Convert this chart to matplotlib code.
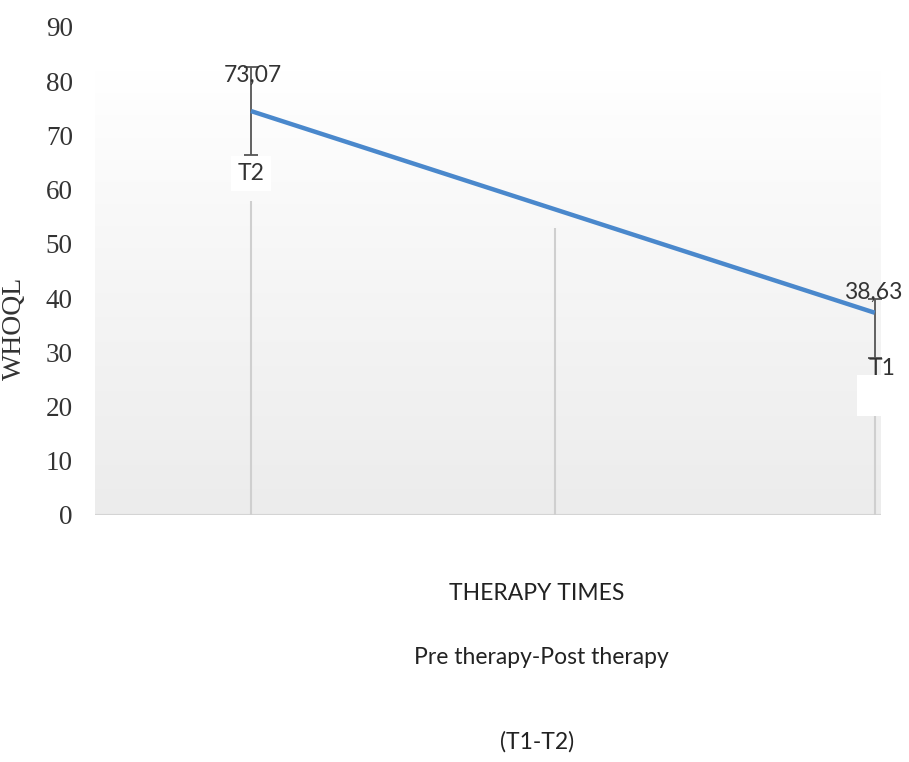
import numpy as np
import matplotlib
matplotlib.use("Agg")
import matplotlib.pyplot as plt
from matplotlib.colors import LinearSegmentedColormap

# Data
times = ["T2", "T1"]
xpos = [0, 2]
whoql_mean = [74.5, 37.3]
value_labels = ["73,07", "38,63"]
err_low = [66.4, 29.0]
err_high = [82.7, 39.8]
grid_x = [0, 0.975, 2]
grid_top = [58, 53, 18.5]
yticks = [0, 10, 20, 30, 40, 50, 60, 70, 80, 90]

fig = plt.figure(figsize=(9.09, 7.62), dpi=100)
ax = fig.add_axes([95/909, 1 - 515/762, (881-95)/909, (515-27)/762])
ax.set_xlim(-0.5, 2.02)
ax.set_ylim(0, 90)

# gradient background
cmap = LinearSegmentedColormap.from_list("bg", ["#ececec", "#f5f5f5", "#ffffff"])
grad = np.linspace(0, 1, 256).reshape(-1, 1)
ax.imshow(grad, extent=[-0.5, 2.02, 0, 82], origin="lower", aspect="auto",
          cmap=cmap, zorder=0)

for s in ax.spines.values():
    s.set_visible(False)
ax.axhline(0, color="#d4d4d4", lw=1.5, zorder=1)

ax.vlines(grid_x, 0, grid_top, colors="#cfcfcf", lw=1.5, zorder=1)

# error bars
lower = np.array(whoql_mean) - np.array(err_low)
upper = np.array(err_high) - np.array(whoql_mean)
ax.errorbar(xpos, whoql_mean, yerr=[lower, upper], fmt="none", ecolor="#555555",
            elinewidth=1.3, capsize=5, capthick=1.3, zorder=3)
ax.plot(xpos, whoql_mean, color="#4a88cc", lw=3.2, zorder=4, solid_capstyle="butt")

lbl_font = ["Lato", "DejaVu Sans"]
fs_lbl = 16.5
ax.text(xpos[0] + 0.005, 81.0, value_labels[0], ha="center", va="center",
        fontsize=fs_lbl, color="#333333", family=lbl_font, zorder=5)
ax.text(xpos[1] - 0.005, 41.0, value_labels[1], ha="center", va="center",
        fontsize=fs_lbl, color="#333333", family=lbl_font, zorder=5)
ax.text(xpos[0], 63.0, times[0], ha="center", va="center", fontsize=fs_lbl,
        color="#333333", family=lbl_font, zorder=5,
        bbox=dict(boxstyle="square,pad=0.3", fc="white", ec="none"))
ax.text(xpos[1] + 0.025, 27.0, times[1], ha="center", va="center", fontsize=fs_lbl,
        color="#333333", family=lbl_font, zorder=5)
ax.text(xpos[1] - 0.01, 22.0, " ", ha="center", va="center", fontsize=13.5,
        zorder=4, bbox=dict(boxstyle="square,pad=0.6", fc="white", ec="none"))

ax.set_xticks([])
ax.set_yticks(yticks)
ax.set_yticklabels([str(v) for v in yticks], family="Liberation Serif",
                   fontsize=19.5, color="#333333")
ax.tick_params(axis="y", length=0, pad=16)
ax.set_ylabel("WHOQL", family="Liberation Serif", fontsize=20, color="#333333")
ax.yaxis.set_label_coords(-(95 - 27) / 786, (515 - 328) / 488)

fs_x = 16.5
fig.text(537/909, 1 - 594/762, "THERAPY TIMES", ha="center", va="center",
         fontsize=fs_x, family=lbl_font, color="#222222")
fig.text(541/909, 1 - 657/762, "Pre therapy-Post therapy", ha="center", va="center",
         fontsize=fs_x, family=lbl_font, color="#222222")
fig.text(537/909, 1 - 742/762, "(T1-T2)", ha="center", va="center",
         fontsize=fs_x, family=lbl_font, color="#222222")

fig.savefig("out.png", dpi=100)
